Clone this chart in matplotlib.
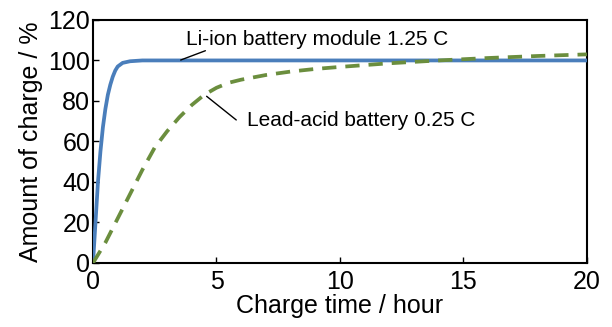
import matplotlib

matplotlib.use("Agg")
import matplotlib.pyplot as plt

plt.rcParams["font.family"] = ["Liberation Sans", "DejaVu Sans"]

# Li-ion battery module, 1.25 C
li_time = [0, 0.1, 0.2, 0.3, 0.4, 0.5, 0.6, 0.7, 0.8, 0.9, 1.0, 1.2, 1.5, 2.0, 3.0, 20.0]
li_soc = [0, 20, 40, 55, 67, 76, 83, 88, 92, 95, 97, 98.8, 99.6, 100, 100, 100]

# Lead-acid battery, 0.25 C
pb_time = [0, 0.5, 1, 1.5, 2, 2.5, 3, 3.5, 4, 4.5, 5, 5.5, 6, 7, 8, 9, 10, 12, 14, 16, 18, 20]
pb_soc = [0, 10, 22, 34, 46, 57, 65, 72, 78, 83, 86.5, 89, 90.5, 92.8, 94.5, 95.8, 96.8, 98.6, 100, 101.2, 102.2, 103]

x_ticks = [0, 5, 10, 15, 20]
y_ticks = [0, 20, 40, 60, 80, 100, 120]

fig = plt.figure(figsize=(6.12, 3.27), dpi=100)
ax = fig.add_axes([0.152, 0.196, 0.807, 0.743])

ax.plot(li_time, li_soc, "-", color="#4a7ebb", lw=2.7, zorder=3)
ax.plot(pb_time, pb_soc, "--", color="#6b8e3e", lw=2.7, dashes=(3.8, 2.4), zorder=4)

# labels with leader lines
ax.text(3.77, 110.5, "Li-ion battery module 1.25 C", fontsize=15, ha="left", va="center")
ax.annotate("", xy=(3.55, 100.2), xytext=(4.55, 104.8),
            arrowprops=dict(arrowstyle="-", color="black", lw=1.0, shrinkA=0, shrinkB=0))
ax.text(6.25, 70.5, "Lead-acid battery 0.25 C", fontsize=15, ha="left", va="center")
ax.annotate("", xy=(4.6, 82.3), xytext=(5.8, 70.6),
            arrowprops=dict(arrowstyle="-", color="black", lw=1.0, shrinkA=0, shrinkB=0))

ax.set_xlim(0, 20)
ax.set_ylim(0, 120)
ax.set_xticks(x_ticks)
ax.set_yticks(y_ticks)
ax.tick_params(direction="in", length=4, width=1, labelsize=18)
ax.tick_params(axis="x", pad=5)
ax.tick_params(axis="y", pad=2)
for s in ax.spines.values():
    s.set_linewidth(1.5)
ax.set_xlabel("Charge time / hour", fontsize=18, labelpad=0)
ax.set_ylabel("Amount of charge / %", fontsize=18, labelpad=4)

fig.savefig("out.png", dpi=100)
